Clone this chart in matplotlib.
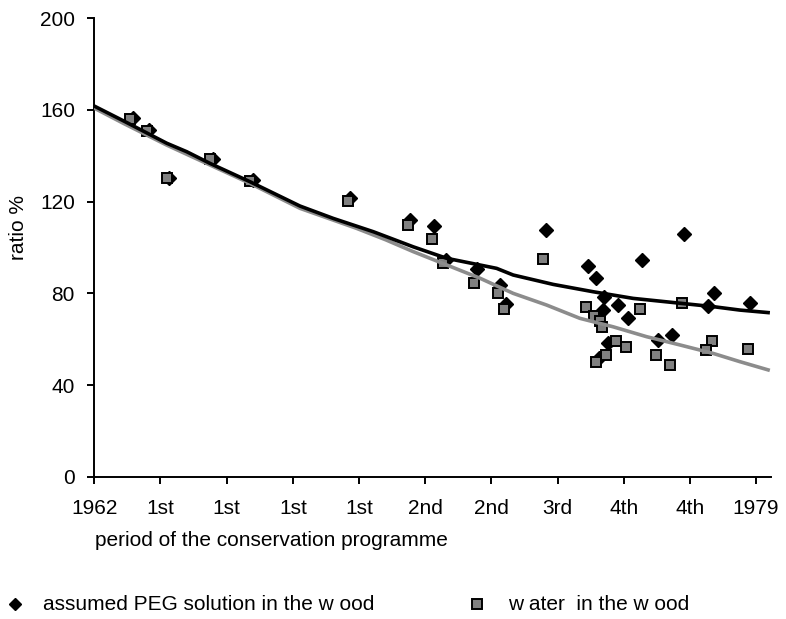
import matplotlib
matplotlib.use("Agg")
import matplotlib.pyplot as plt
from matplotlib.lines import Line2D

plt.rcParams['font.family'] = ['Liberation Sans', 'DejaVu Sans']

# category positions 0..10 along the axis
tick_pos = [0, 1, 2, 3, 4, 5, 6, 7, 8, 9, 10]
tick_labels = ['1962', '1st', '1st', '1st', '1st', '2nd', '2nd', '3rd', '4th', '4th', '1979']

# assumed PEG solution in the wood (diamonds)
peg_x = [0.585, 0.826, 1.129, 1.789, 2.393, 3.864, 4.770, 5.133, 5.308, 5.776,
         6.128, 6.219, 6.823, 7.462, 7.579, 7.700, 7.680, 7.906, 8.066, 8.278,
         8.908, 9.361, 9.275, 9.905, 7.764, 7.624, 8.520, 8.731]
peg_y = [156.5, 151.3, 130.5, 138.6, 129.5, 121.5, 112.0, 109.4, 94.5, 90.5,
         83.6, 75.3, 107.6, 92.1, 86.8, 78.5, 72.7, 74.9, 69.4, 94.5,
         105.9, 80.0, 74.6, 75.7, 58.5, 51.8, 59.6, 61.8]

# water in the wood (squares)
water_x = [0.541, 0.792, 1.094, 1.748, 2.352, 3.832, 4.734, 5.097, 5.272, 5.736,
           6.094, 6.189, 6.782, 7.428, 7.549, 7.640, 7.665, 8.243, 8.873, 9.326,
           9.240, 9.870, 7.881, 8.032, 7.730, 7.579, 8.485, 8.697]
water_y = [155.9, 150.8, 130.5, 138.5, 129.1, 120.3, 109.8, 103.7, 93.1, 84.4,
           80.0, 73.2, 94.9, 74.2, 70.2, 68.1, 65.4, 73.0, 75.7, 59.2,
           55.3, 55.6, 59.2, 56.5, 53.1, 49.9, 53.1, 48.7]

# moving-average trend lines
peg_trend_x = [0, 0.438, 1.094, 1.396, 1.748, 2.352, 3.107, 3.610, 4.215, 4.819,
               5.323, 6.079, 6.329, 6.934, 7.538, 8.142, 8.847, 9.350, 9.754, 10.181]
peg_trend_y = [161.7, 155.3, 145.5, 141.8, 136.7, 128.7, 118.1, 112.7, 106.9, 100.3,
               95.3, 90.9, 88.0, 83.9, 80.7, 77.8, 75.7, 74.2, 72.7, 71.6]
water_trend_x = [0, 0.438, 1.094, 1.748, 2.352, 3.107, 3.959, 4.400, 4.819, 5.323,
                 5.827, 6.329, 6.834, 7.337, 7.840, 8.344, 8.847, 9.350, 9.754, 10.181]
water_trend_y = [160.8, 154.2, 144.7, 136.0, 128.0, 117.1, 108.4, 103.4, 98.2, 92.4,
                 86.6, 80.0, 74.9, 69.1, 65.4, 61.1, 57.5, 53.8, 50.2, 46.6]

fig = plt.figure(figsize=(7.86, 6.19), dpi=100)
ax = fig.add_axes([0.120, 0.2299, 0.8605, 0.7405])

ax.plot(peg_x, peg_y, linestyle='none', marker='D', markersize=7.4,
        color='black', zorder=2)
ax.plot(water_x, water_y, linestyle='none', marker='s', markersize=7.6,
        markerfacecolor='#808080', markeredgecolor='black', markeredgewidth=1.4, zorder=3)
ax.plot(water_trend_x, water_trend_y, color='#8c8c8c', linewidth=2.6, zorder=4)
ax.plot(peg_trend_x, peg_trend_y, color='black', linewidth=2.6, zorder=5)

ax.set_xlim(0, 10.22)
ax.set_ylim(0, 200)
ax.set_xticks(tick_pos)
ax.set_xticklabels(tick_labels)
ax.set_yticks([0, 40, 80, 120, 160, 200])

for s in ['top', 'right']:
    ax.spines[s].set_visible(False)
for s in ['left', 'bottom']:
    ax.spines[s].set_linewidth(1.4)
ax.tick_params(axis='both', direction='out', length=5, width=1.4, labelsize=15)
ax.tick_params(axis='x', pad=11)
ax.tick_params(axis='y', pad=9)

fig.text(18 / 786, 1 - 227 / 619, 'ratio %', rotation=90, fontsize=15,
         ha='center', va='center')
fig.text(95 / 786, 1 - 540 / 619, 'period of the conservation programme',
         fontsize=15, ha='left', va='center')

# legend along the bottom
ly = 1 - 604 / 619
fig.add_artist(Line2D([15 / 786], [ly], transform=fig.transFigure, marker='D',
                      markersize=6.4, color='black', linestyle='none'))
fig.text(43 / 786, ly, 'assumed PEG solution in the w ood', fontsize=15,
         ha='left', va='center')
fig.add_artist(Line2D([476.7 / 786], [ly], transform=fig.transFigure, marker='s',
                      markersize=7.4, markerfacecolor='#808080', markeredgecolor='black',
                      markeredgewidth=1.4, linestyle='none'))
fig.text(508 / 786, ly, 'w ater  in the w ood', fontsize=15, ha='left', va='center')

fig.savefig('out.png', dpi=100)
